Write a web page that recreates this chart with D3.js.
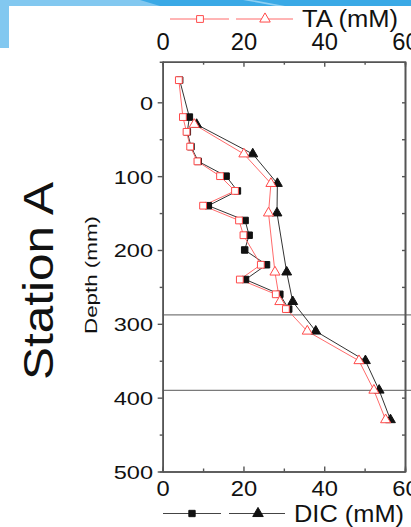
<!DOCTYPE html>
<html>
<head>
<meta charset="utf-8">
<script src="https://cdn.jsdelivr.net/npm/d3@7"></script>
<style>
body { margin: 0; background: #fff; }
svg { display: block; font-family: "Liberation Sans", Arial, sans-serif; }
</style>
</head>
<body>
<svg id="chart"></svg>
<script>
// square series (porewater, 20 mm resolution)
var sqDepth = [-30, 20, 40, 60, 80, 100, 120, 140, 160, 180, 200, 220, 240, 260, 280];
var taSq    = [4.0, 5.0, 5.9, 6.8, 8.6, 14.2, 17.9, 10.0, 18.9, 20.0, null, 24.3, 19.1, 28.0, 30.5];
var dicSq   = [4.2, 6.6, 6.1, 7.0, 8.8, 15.7, 18.5, 11.3, 20.4, 21.4, 20.3, 25.7, 20.5, 29.0, 31.2];

// triangle series
var triDepth = [30, 70, 110, 150, 230, 270, 310, 350, 390, 430];
var taTri    = [7.8, 20.1, 26.8, 26.2, 27.8, 29.0, 35.8, 48.6, 52.3, 55.2];
var dicTri   = [8.4, 22.3, 28.4, 28.3, 30.7, 32.2, 37.9, 50.2, 53.6, 56.4];

// horizontal boundary lines
var boundaryDepths = [288, 390];

var xTicks = [0, 20, 40, 60];
var xMinor = [10, 30, 50];
var yTicks = [0, 100, 200, 300, 400, 500];
var yMinor = [50, 150, 250, 350, 450];
var yRight = [0, 50, 100, 150, 200, 250, 300, 350, 400, 450];

var W = 411, H = 527;
var red = "#ff4a4a", redLine = "#ff6b6b", black = "#111";

var svg = d3.select("#chart").attr("width", W).attr("height", H);

// slide decoration at top-left
svg.append("rect").attr("x", 0).attr("y", 0).attr("width", W).attr("height", 6).attr("fill", "#82c8f0");
svg.append("path").attr("d", "M140,0 L411,0 L411,6 L160,6 Z").attr("fill", "#3aa9e6");
svg.append("path").attr("d", "M243,0 L252,0 L285,6 L276,6 Z").attr("fill", "#8fd0f3");
svg.append("rect").attr("x", 0).attr("y", 0).attr("width", 9).attr("height", 48).attr("fill", "#82c8f0");

var x = d3.scaleLinear().domain([0, 60]).range([162.7, 405]);
var y = d3.scaleLinear().domain([-55, 500]).range([61.7, 471.5]);

// boundary lines
svg.selectAll(".bound")
    .data(boundaryDepths)
    .enter()
    .append("line")
    .attr("class", "bound")
    .attr("x1", x(0))
    .attr("x2", W)
    .attr("y1", function(d){return y(d);})
    .attr("y2", function(d){return y(d);})
    .attr("stroke", "#7a7a7a")
    .attr("stroke-width", 1.3);

var styleAxis = function(g)
{
    g.select(".domain").attr("stroke", "#555").attr("stroke-width", 1.6);
    g.selectAll(".tick line").attr("stroke", "#555").attr("stroke-width", 1.4);
    g.selectAll("text").attr("fill", "#111");
};

// top axis
var gTop = svg.append("g").attr("transform", "translate(0," + y(-55) + ")")
    .call(d3.axisTop(x).tickValues(xTicks).tickSizeInner(-5).tickSizeOuter(0).tickFormat(d3.format("d")));
gTop.selectAll("text")
    .attr("y", 50 - y(-55)).attr("dy", 0)
    .style("font-size", "23px")
    .attr("textLength", function(d){return String(d).length * 13.2;})
    .attr("lengthAdjust", "spacingAndGlyphs");
styleAxis(gTop);
var gTopMinor = svg.append("g").attr("transform", "translate(0," + y(-55) + ")")
    .call(d3.axisTop(x).tickValues(xMinor).tickSize(-3).tickFormat(""));
styleAxis(gTopMinor);

// bottom axis
var gBot = svg.append("g").attr("transform", "translate(0," + y(500) + ")")
    .call(d3.axisBottom(x).tickValues(xTicks).tickSizeInner(-5).tickSizeOuter(0).tickFormat(d3.format("d")));
gBot.selectAll("text")
    .attr("y", 496 - y(500)).attr("dy", 0)
    .style("font-size", "22px")
    .attr("textLength", function(d){return String(d).length * 13.2;})
    .attr("lengthAdjust", "spacingAndGlyphs");
styleAxis(gBot);
var gBotMinor = svg.append("g").attr("transform", "translate(0," + y(500) + ")")
    .call(d3.axisBottom(x).tickValues(xMinor).tickSize(-3).tickFormat(""));
styleAxis(gBotMinor);

// left axis
var gLeft = svg.append("g").attr("transform", "translate(" + x(0) + ",0)")
    .call(d3.axisLeft(y).tickValues(yTicks).tickSize(5).tickSizeOuter(0).tickPadding(5));
gLeft.selectAll("text")
    .attr("x", 153 - x(0)).attr("dy", 7)
    .style("font-size", "19px")
    .attr("textLength", function(d){return String(d).length * 13.1;})
    .attr("lengthAdjust", "spacingAndGlyphs");
styleAxis(gLeft);
var gLeftMinor = svg.append("g").attr("transform", "translate(" + x(0) + ",0)")
    .call(d3.axisLeft(y).tickValues(yMinor).tickSize(3).tickFormat(""));
styleAxis(gLeftMinor);

// right axis
var gRight = svg.append("g").attr("transform", "translate(" + x(60) + ",0)")
    .call(d3.axisRight(y).tickValues(yRight).tickSize(-3).tickSizeOuter(0).tickFormat(""));
styleAxis(gRight);
gRight.select(".domain").attr("stroke-width", 2);

// lines
var pairs = function(depths, vals)
{
    return depths.map(function(d, i){return {d: d, v: vals[i]};})
                 .filter(function(p){return p.v != null;});
};

var lineGen = d3.line()
    .x(function(p){return x(p.v);})
    .y(function(p){return y(p.d);});

var series = [
    {data: pairs(sqDepth, dicSq), color: "#333", shape: d3.symbolSquare, size: 42, fill: black, stroke: black},
    {data: pairs(triDepth, dicTri), color: "#333", shape: d3.symbolTriangle, size: 42, fill: black, stroke: black},
    {data: pairs(sqDepth, taSq), color: redLine, shape: d3.symbolSquare, size: 46, fill: "#fff", stroke: red},
    {data: pairs(triDepth, taTri), color: redLine, shape: d3.symbolTriangle, size: 44, fill: "#fff", stroke: red}
];

series.forEach(function(s)
{
    svg.append("path")
        .datum(s.data)
        .attr("d", lineGen)
        .attr("fill", "none")
        .attr("stroke", s.color)
        .attr("stroke-width", 1);
});

series.forEach(function(s)
{
    svg.append("g")
        .selectAll("path")
        .data(s.data)
        .enter()
        .append("path")
        .attr("transform", function(p){return "translate(" + x(p.v) + "," + y(p.d) + ")";})
        .attr("d", d3.symbol().type(s.shape).size(s.size))
        .attr("fill", s.fill)
        .attr("stroke", s.stroke)
        .attr("stroke-width", 1);
});

// legends
var legend = function(items, ly, color, label, tx, fs, tl)
{
    items.forEach(function(it)
    {
        svg.append("line")
            .attr("x1", it.x1).attr("x2", it.x2)
            .attr("y1", ly).attr("y2", ly)
            .attr("stroke", color).attr("stroke-width", 1);
        svg.append("path")
            .attr("transform", "translate(" + it.m + "," + ly + ")")
            .attr("d", d3.symbol().type(it.shape).size(it.size))
            .attr("fill", it.fill)
            .attr("stroke", it.stroke)
            .attr("stroke-width", 1);
    });
    svg.append("text")
        .attr("x", tx).attr("y", ly + fs * 0.34)
        .style("font-size", fs + "px")
        .attr("fill", "#111")
        .attr("textLength", tl)
        .attr("lengthAdjust", "spacingAndGlyphs")
        .text(label);
};

legend([
    {x1: 170, x2: 229, m: 200, shape: d3.symbolSquare, size: 46, fill: "#fff", stroke: red},
    {x1: 236, x2: 293, m: 265, shape: d3.symbolTriangle, size: 48, fill: "#fff", stroke: red}
], 19, redLine, "TA (mM)", 302, 23, 96);

legend([
    {x1: 163, x2: 221, m: 192, shape: d3.symbolSquare, size: 40, fill: black, stroke: black},
    {x1: 229, x2: 285, m: 258, shape: d3.symbolTriangle, size: 48, fill: black, stroke: black}
], 513.5, "#444", "DIC (mM)", 294, 24, 110);

// axis titles
svg.append("text")
    .attr("transform", "translate(53,281) rotate(-90)")
    .attr("text-anchor", "middle")
    .style("font-size", "42px")
    .attr("fill", "#111")
    .attr("textLength", 198)
    .attr("lengthAdjust", "spacingAndGlyphs")
    .text("Station A");

svg.append("text")
    .attr("transform", "translate(97,275) rotate(-90)")
    .attr("text-anchor", "middle")
    .style("font-size", "17px")
    .attr("fill", "#111")
    .attr("textLength", 118)
    .attr("lengthAdjust", "spacingAndGlyphs")
    .text("Depth (mm)");
</script>
</body>
</html>
